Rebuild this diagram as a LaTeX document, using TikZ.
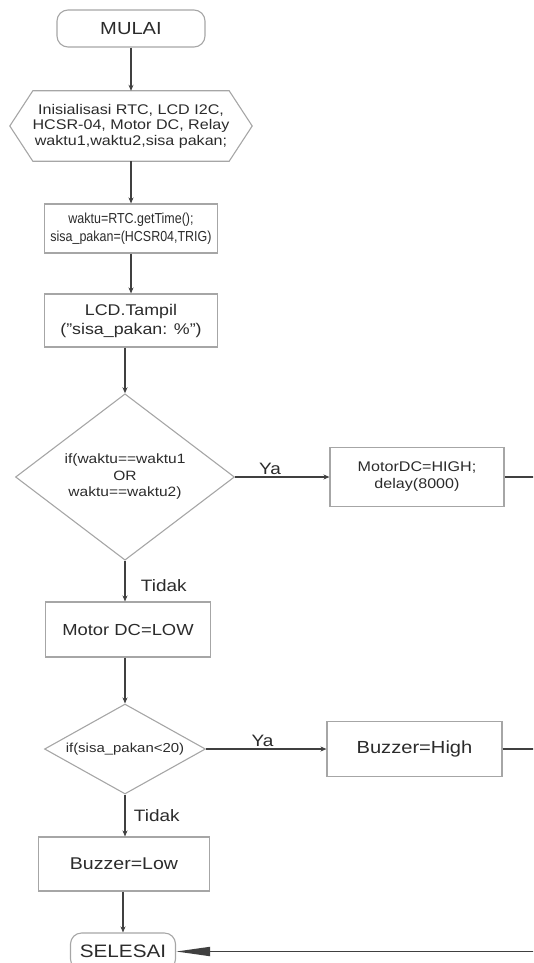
\documentclass[tikz,border=0pt]{standalone}
\usepackage{fontspec}
\setmainfont[FakeStretch=1.15]{Liberation Sans}
\newfontfamily\narrowfont[FakeStretch=0.86]{Liberation Sans}
\usetikzlibrary{shapes.geometric,arrows.meta}
\definecolor{boxgray}{HTML}{A6A6A6}
\definecolor{linegray}{HTML}{404040}
\definecolor{textgray}{HTML}{2B2B2B}

\begin{document}
\begin{tikzpicture}[x=1pt, y=-1pt,
  procbox/.style={draw=boxgray, line width=1.1pt, rectangle, inner sep=0pt, align=center, text=textgray},
  termbox/.style={procbox, rounded corners=11pt},
  decbox/.style={draw=boxgray, line width=1.1pt, diamond, inner sep=0pt, align=center, text=textgray},
  flow/.style={draw=linegray, line width=1.8pt, -{Stealth[length=6pt,width=5pt]}},
  answer/.style={text=textgray, inner sep=1pt, font=\fontsize{16.5}{19}\selectfont}]
  \useasboundingbox (0,0) rectangle (533,963);
  \clip (0,0) rectangle (533,963);

  \node[termbox, minimum width=148pt, minimum height=37pt, font=\fontsize{17.5}{20}\selectfont] (mulai) at (131,28.5) {MULAI};
  \node[inner sep=0pt, minimum width=242pt, minimum height=70pt, align=center, text=textgray, font=\fontsize{14}{15.5}\selectfont] (init) at (131,126) {Inisialisasi RTC, LCD I2C,\\ HCSR-04, Motor DC, Relay\\ waktu1,waktu2,sisa pakan;};
  \draw[boxgray, line width=1.1pt] (init.west) -- ([xshift=23pt]init.north west) -- ([xshift=-23pt]init.north east) -- (init.east) -- ([xshift=-23pt]init.south east) -- ([xshift=23pt]init.south west) -- cycle;
  \node[procbox, minimum width=173pt, minimum height=49pt, font=\narrowfont\fontsize{14.5}{18}\selectfont] (waktu) at (131,228.5) {waktu=RTC.getTime();\\ sisa\_pakan=(HCSR04,TRIG)};
  \node[procbox, minimum width=173pt, minimum height=53pt, font=\fontsize{15.5}{19}\selectfont] (lcd) at (131,320.5) {LCD.Tampil\\ ("sisa\_pakan: \%")};
  \node[decbox, minimum width=219pt, minimum height=166pt, font=\fontsize{13.5}{16.5}\selectfont] (cek1) at (125,477) {if(waktu==waktu1\\ OR\\ waktu==waktu2)};
  \node[procbox, minimum width=174pt, minimum height=59pt, font=\fontsize{14}{17}\selectfont] (motoron) at (417,477) {MotorDC=HIGH;\\ delay(8000)};
  \node[procbox, minimum width=165pt, minimum height=55pt, font=\fontsize{16}{19}\selectfont] (motoroff) at (128,629.5) {Motor DC=LOW};
  \node[decbox, aspect=1.79, minimum width=161pt, minimum height=90pt, font=\fontsize{13}{15}\selectfont] (cek2) at (125,749) {if(sisa\_pakan<20)};
  \node[procbox, minimum width=175pt, minimum height=55pt, font=\fontsize{17.5}{20}\selectfont] (buzzon) at (414.5,749) {Buzzer=High};
  \node[procbox, minimum width=171pt, minimum height=54pt, font=\fontsize{17}{20}\selectfont] (buzzoff) at (124,864) {Buzzer=Low};
  \node[termbox, minimum width=105pt, minimum height=37pt, font=\fontsize{18}{20}\selectfont] (selesai) at (123,951.5) {SELESAI};
  \coordinate (rail) at (560,477);

  \draw[flow] (mulai) -- (init);
  \draw[flow] (init) -- (waktu);
  \draw[flow] (waktu) -- (lcd);
  \draw[flow] (lcd.south -| cek1.north) -- (cek1.north);
  \draw[flow] (cek1.east) -- node[answer, above, pos=0.37] {Ya} (motoron.west);
  \draw[flow] (cek1.south) -- node[answer, right=14pt, pos=0.6] {Tidak} (cek1.south |- motoroff.north);
  \draw[flow] (motoroff.south -| cek2.north) -- (cek2.north);
  \draw[flow] (cek2.east) -- node[answer, above, pos=0.47] {Ya} (buzzon.west);
  \draw[flow] (cek2.south) -- node[answer, right=7pt, pos=0.5] {Tidak} (cek2.south |- buzzoff.north);
  \draw[flow] (buzzoff.south -| selesai.north) -- (selesai.north);
  \draw[linegray, line width=1.8pt] (buzzon.east) -- (buzzon.east -| rail);
  \draw[linegray, line width=1.8pt, -{Triangle[length=34pt,width=9pt]}] (motoron.east) -- (rail) |- (selesai.east);
\end{tikzpicture}
\end{document}
